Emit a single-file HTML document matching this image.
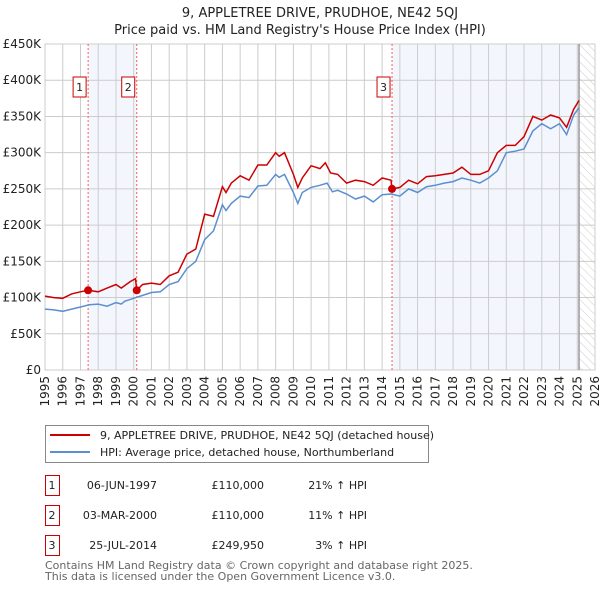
<!DOCTYPE html>
<html><head><meta charset="utf-8"><style>
body{margin:0;background:#fff;font-family:"Liberation Sans","DejaVu Sans",sans-serif;}
svg text{font-family:"DejaVu Sans","Liberation Sans",sans-serif;}
</style></head><body>
<svg id="c" width="600" height="590" xmlns="http://www.w3.org/2000/svg">
<defs><pattern id="hatch" width="6" height="6" patternUnits="userSpaceOnUse" patternTransform="rotate(-45)"><line x1="0" y1="0" x2="0" y2="6" stroke="#ccc" stroke-width="1"/></pattern></defs>
<text x="320" y="17" text-anchor="middle" font-size="13" fill="#222">9, APPLETREE DRIVE, PRUDHOE, NE42 5QJ</text>
<text x="300" y="34" text-anchor="middle" font-size="13" fill="#222">Price paid vs. HM Land Registry's House Price Index (HPI)</text>
<g id="plot"></g>
<g>
<rect x="45.5" y="425.5" width="383" height="37" fill="#fff" stroke="#888"/>
<line x1="50" y1="435" x2="90" y2="435" stroke="#cc0000" stroke-width="2"/>
<text x="100" y="439" font-size="11" fill="#222">9, APPLETREE DRIVE, PRUDHOE, NE42 5QJ (detached house)</text>
<line x1="50" y1="452" x2="90" y2="452" stroke="#5b8fd0" stroke-width="2"/>
<text x="100" y="456" font-size="11" fill="#222">HPI: Average price, detached house, Northumberland</text>
</g>
<g id="table" font-size="11" fill="#222"></g>
<text x="45" y="569" font-size="11" fill="#666">Contains HM Land Registry data © Crown copyright and database right 2025.</text>
<text x="45" y="580" font-size="11" fill="#666">This data is licensed under the Open Government Licence v3.0.</text>
</svg>
<script>
const yTicks=[0,50,100,150,200,250,300,350,400,450];
const yTickLabels=["£0","£50K","£100K","£150K","£200K","£250K","£300K","£350K","£400K","£450K"];
const years=[1995,1996,1997,1998,1999,2000,2001,2002,2003,2004,2005,2006,2007,2008,2009,2010,2011,2012,2013,2014,2015,2016,2017,2018,2019,2020,2021,2022,2023,2024,2025,2026];
const hpiT=[1995,1995.5,1996,1996.5,1997,1997.5,1998,1998.5,1999,1999.3,1999.5,2000,2000.5,2001,2001.5,2002,2002.5,2003,2003.5,2004,2004.5,2005,2005.2,2005.5,2006,2006.5,2007,2007.5,2008,2008.2,2008.5,2009,2009.25,2009.5,2010,2010.5,2010.9,2011.2,2011.5,2012,2012.5,2013,2013.5,2014,2014.5,2015,2015.5,2016,2016.5,2017,2017.5,2018,2018.5,2019,2019.5,2020,2020.5,2021,2021.5,2022,2022.5,2023,2023.5,2024,2024.4,2024.8,2025.1];
const hpiV=[84,83,81,84,87,90,91,88,93,91,95,99,103,107,108,118,122,140,150,180,192,228,220,230,240,238,254,255,270,266,270,245,230,245,252,255,258,246,248,243,236,240,232,242,243,240,250,245,253,255,258,260,265,262,258,265,275,300,302,305,330,340,333,340,325,352,362];
const propT=[1995,1995.5,1996,1996.5,1997,1997.43,1998,1998.5,1999,1999.3,1999.8,2000.1,2000.17,2000.5,2001,2001.5,2002,2002.5,2003,2003.5,2004,2004.5,2005,2005.2,2005.5,2006,2006.5,2007,2007.5,2008,2008.2,2008.5,2009,2009.25,2009.5,2010,2010.5,2010.8,2011.1,2011.5,2012,2012.5,2013,2013.5,2014,2014.5,2014.56,2015,2015.5,2016,2016.5,2017,2017.5,2018,2018.5,2019,2019.5,2020,2020.5,2021,2021.5,2022,2022.5,2023,2023.5,2024,2024.4,2024.8,2025.1];
const propV=[102,100,99,105,108,110,108,113,118,113,122,126,110,118,120,118,130,135,160,167,215,212,253,245,258,268,262,283,283,300,295,300,270,252,265,282,278,286,272,270,258,262,260,255,265,262,250,252,262,257,267,268,270,272,280,270,270,275,300,310,310,322,350,345,352,348,335,360,372];
const saleT=[1997.43,2000.17,2014.56];
const saleV=[110,110,249.95];
const saleLabels=["1","2","3"];
const saleDates=["06-JUN-1997","03-MAR-2000","25-JUL-2014"];
const salePrices=["£110,000","£110,000","£249,950"];
const saleHpi=["21% ↑ HPI","11% ↑ HPI","3% ↑ HPI"];

const X0=45,X1=595,Y0=370,Y1=44;
const x=t=>X0+(t-1995)/31*(X1-X0);
const y=v=>Y0-v/450*(Y0-Y1);
const NS="http://www.w3.org/2000/svg";
const g=document.getElementById('plot');
function mk(tag,a,p){const e=document.createElementNS(NS,tag);for(const k in a)e.setAttribute(k,a[k]);(p||g).appendChild(e);return e;}
// shaded spans
let e=mk('rect',{x:x(saleT[0]),y:Y1,width:x(saleT[1])-x(saleT[0]),height:Y0-Y1,fill:'#eef3fc',opacity:0.7});

e=mk('rect',{x:x(saleT[2]),y:Y1,width:x(2025.1)-x(saleT[2]),height:Y0-Y1,fill:'#eef3fc',opacity:0.7});

e=mk('rect',{x:x(2025.1),y:Y1,width:X1-x(2025.1),height:Y0-Y1,fill:'url(#hatch)'});

years.forEach(yr=>{
 e=mk('line',{x1:x(yr),x2:x(yr),y1:Y1,y2:Y0,stroke:'#ccc','stroke-width':1});
 
 const tx=x(yr)+4;
 e=mk('text',{x:0,y:0,transform:`translate(${tx},${Y0+6}) rotate(-90)`,'text-anchor':'end','font-size':12,fill:'#222'});
 e.textContent=yr;
});
yTicks.forEach((v,i)=>{
 e=mk('line',{x1:X0,x2:X1,y1:y(v),y2:y(v),stroke:'#ccc','stroke-width':1});
 
 e=mk('text',{x:X0-4,y:y(v)+4,'text-anchor':'end','font-size':12,fill:'#222'});
 e.textContent=yTickLabels[i];
});
e=mk('rect',{x:X0,y:Y1,width:X1-X0,height:Y0-Y1,fill:'none',stroke:'#ccc'});

e=mk('line',{x1:x(2025.1),x2:x(2025.1),y1:Y1,y2:Y0,stroke:'#999','stroke-width':1.5});

saleT.forEach((t,i)=>{
 e=mk('line',{x1:x(t),x2:x(t),y1:Y1,y2:Y0,stroke:'#f06060','stroke-width':1,'stroke-dasharray':'2,2'});
 
 e=mk('rect',{x:x(t)-15,y:77,width:13,height:20,fill:'#fff',stroke:'#cc0000'});
 
 e=mk('text',{x:x(t)-8.5,y:91,'text-anchor':'middle','font-size':11,fill:'#222'});
 e.textContent=saleLabels[i];
});
function path(T,V){return T.map((t,i)=>(i?'L':'M')+x(t).toFixed(1)+','+y(V[i]).toFixed(1)).join('');}
e=mk('path',{d:path(hpiT,hpiV),fill:'none',stroke:'#5b8fd0','stroke-width':1.5});

e=mk('path',{d:path(propT,propV),fill:'none',stroke:'#cc0000','stroke-width':1.5});

saleT.forEach((t,i)=>{
 e=mk('circle',{cx:x(t),cy:y(saleV[i]),r:4,fill:'#cc0000'});
 
});
const tb=document.getElementById('table');
saleLabels.forEach((l,i)=>{
 const yy=475+i*30;
 e=mk('rect',{x:45.5,y:yy+0.5,width:14,height:20,fill:'#fff',stroke:'#cc0000'},tb);
 
 const cells=[[52,'middle',l],[157,'end',saleDates[i]],[264,'end',salePrices[i]],[367,'end',saleHpi[i]]];
 cells.forEach(c=>{e=mk('text',{x:c[0],y:yy+14,'text-anchor':c[1]},tb);e.textContent=c[2];
  });
});
</script>
</body></html>
